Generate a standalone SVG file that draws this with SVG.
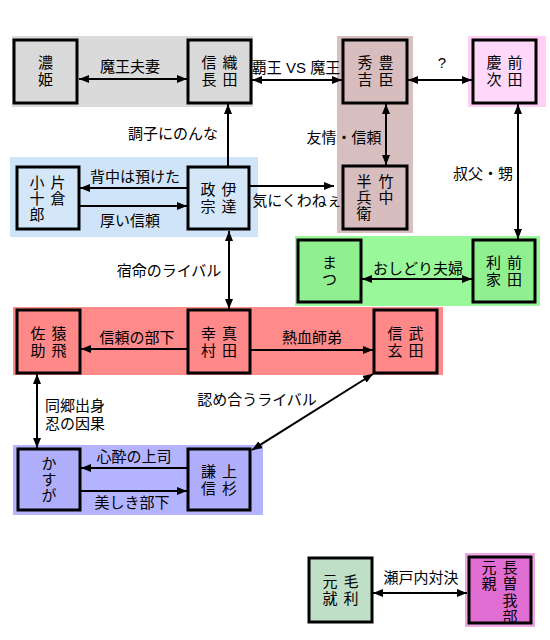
<svg xmlns="http://www.w3.org/2000/svg" width="550" height="640" viewBox="0 0 550 640">
<style>
text{font-family:"Liberation Sans","Noto Sans CJK JP",sans-serif;fill:#000}
.n{font-size:15px;text-anchor:middle;dominant-baseline:central}
.l{font-size:15px;text-anchor:middle}
.b{stroke:#000;stroke-width:3}
.c{stroke:#000;stroke-width:2;fill:none}
</style>
<defs>
<marker id="ah" markerUnits="userSpaceOnUse" markerWidth="10" markerHeight="8" refX="10" refY="4" orient="auto-start-reverse"><path d="M0,0L10,4L0,8z" fill="#000"/></marker>
</defs>
<g id="backgrounds">
<rect x="12" y="36" width="241" height="71" fill="#dadada"/>
<rect x="337" y="36" width="76" height="197" fill="#d7bfbf"/>
<rect x="468" y="36" width="78" height="71" fill="#ffcff5"/>
<rect x="10" y="157" width="248" height="80" fill="#cfe4f8"/>
<rect x="295" y="236" width="245" height="70" fill="#99f899"/>
<rect x="13" y="307" width="430" height="68" fill="#ff8a8a"/>
<rect x="13" y="445" width="250" height="70" fill="#b3b3ff"/>
<rect x="465" y="553" width="70" height="74" fill="#eea8e6"/>
</g>
<g id="connectors">
<line class="c" x1="79" y1="79" x2="187" y2="79" marker-start="url(#ah)" marker-end="url(#ah)"/>
<line class="c" x1="252" y1="80" x2="342" y2="80" marker-start="url(#ah)" marker-end="url(#ah)"/>
<line class="c" x1="408" y1="80" x2="472" y2="80" marker-start="url(#ah)" marker-end="url(#ah)"/>
<line class="c" x1="228" y1="166" x2="228" y2="104" marker-end="url(#ah)"/>
<line class="c" x1="386" y1="104" x2="386" y2="165" marker-start="url(#ah)" marker-end="url(#ah)"/>
<line class="c" x1="518" y1="104" x2="518" y2="239" marker-start="url(#ah)" marker-end="url(#ah)"/>
<line class="c" x1="187" y1="188" x2="80" y2="188" marker-end="url(#ah)"/>
<line class="c" x1="80" y1="206" x2="187" y2="206" marker-end="url(#ah)"/>
<line class="c" x1="250" y1="186" x2="334" y2="186" marker-end="url(#ah)"/>
<line class="c" x1="229" y1="231" x2="229" y2="309" marker-start="url(#ah)" marker-end="url(#ah)"/>
<line class="c" x1="362" y1="279" x2="472" y2="279" marker-start="url(#ah)" marker-end="url(#ah)"/>
<line class="c" x1="187" y1="349" x2="81" y2="349" marker-end="url(#ah)"/>
<line class="c" x1="251" y1="350" x2="373" y2="350" marker-end="url(#ah)"/>
<line class="c" x1="37" y1="374" x2="37" y2="448" marker-start="url(#ah)" marker-end="url(#ah)"/>
<line class="c" x1="252" y1="450" x2="373" y2="374" marker-start="url(#ah)" marker-end="url(#ah)"/>
<line class="c" x1="187" y1="468" x2="81" y2="468" marker-end="url(#ah)"/>
<line class="c" x1="81" y1="491" x2="187" y2="491" marker-end="url(#ah)"/>
<line class="c" x1="373" y1="593" x2="467" y2="593" marker-start="url(#ah)" marker-end="url(#ah)"/>
</g>
<g id="labels">
<text class="l" x="130" y="72">魔王夫妻</text>
<text class="l" x="296" y="73">覇王 VS 魔王</text>
<text class="l" x="442" y="68">?</text>
<text class="l" x="173" y="139">調子にのんな</text>
<text class="l" x="344" y="143">友情・信頼</text>
<text class="l" x="135" y="182">背中は預けた</text>
<text class="l" x="130" y="226">厚い信頼</text>
<text class="l" x="297" y="206">気にくわねぇ</text>
<text class="l" x="483" y="179">叔父・甥</text>
<text class="l" x="418" y="274">おしどり夫婦</text>
<text class="l" x="169" y="276">宿命のライバル</text>
<text class="l" x="137" y="343">信頼の部下</text>
<text class="l" x="312" y="343">熱血師弟</text>
<text class="l" x="45" y="411" style="text-anchor:start">同郷出身</text>
<text class="l" x="45" y="429" style="text-anchor:start">忍の因果</text>
<text class="l" x="257" y="405">認め合うライバル</text>
<text class="l" x="134" y="462">心酔の上司</text>
<text class="l" x="132" y="508">美しき部下</text>
<text class="l" x="421" y="583">瀬戸内対決</text>
</g>
<g id="n-nohime"><rect class="b" x="14" y="40" width="63" height="63" fill="#d9d9d9"/><text class="n" x="45.5" y="62">濃</text><text class="n" x="45.5" y="79">姫</text></g>
<g id="n-nobunaga"><rect class="b" x="188" y="40" width="63" height="63" fill="#d9d9d9"/><text class="n" x="230" y="62">織</text><text class="n" x="230" y="79">田</text><text class="n" x="209" y="62">信</text><text class="n" x="209" y="79">長</text></g>
<g id="n-hideyoshi"><rect class="b" x="343" y="40" width="64" height="63" fill="#d7bdbd"/><text class="n" x="386" y="62">豊</text><text class="n" x="386" y="79">臣</text><text class="n" x="365" y="62">秀</text><text class="n" x="365" y="79">吉</text></g>
<g id="n-keiji"><rect class="b" x="473" y="40" width="63" height="63" fill="#ffd8fa"/><text class="n" x="515" y="62">前</text><text class="n" x="515" y="79">田</text><text class="n" x="494" y="62">慶</text><text class="n" x="494" y="79">次</text></g>
<g id="n-kojuro"><rect class="b" x="17" y="167" width="62" height="62" fill="#d3e7f9"/><text class="n" x="58" y="182">片</text><text class="n" x="58" y="198">倉</text><text class="n" x="37" y="182">小</text><text class="n" x="37" y="198">十</text><text class="n" x="37" y="214">郎</text></g>
<g id="n-masamune"><rect class="b" x="188" y="167" width="61" height="62" fill="#d3e7f9"/><text class="n" x="229" y="189.5">伊</text><text class="n" x="229" y="206.5">達</text><text class="n" x="208" y="189.5">政</text><text class="n" x="208" y="206.5">宗</text></g>
<g id="n-hanbei"><rect class="b" x="343" y="166" width="64" height="63" fill="#d7bdbd"/><text class="n" x="386" y="181">竹</text><text class="n" x="386" y="197">中</text><text class="n" x="364" y="181">半</text><text class="n" x="364" y="197">兵</text><text class="n" x="364" y="213">衛</text></g>
<g id="n-matsu"><rect class="b" x="298" y="240" width="63" height="62" fill="#90f090"/><text class="n" x="329.5" y="262.5">ま</text><text class="n" x="329.5" y="279.5">つ</text></g>
<g id="n-toshiie"><rect class="b" x="473" y="240" width="62" height="62" fill="#90f090"/><text class="n" x="514.5" y="262.5">前</text><text class="n" x="514.5" y="279.5">田</text><text class="n" x="493.5" y="262.5">利</text><text class="n" x="493.5" y="279.5">家</text></g>
<g id="n-sasuke"><rect class="b" x="17" y="310" width="63" height="63" fill="#ff8888"/><text class="n" x="59" y="333">猿</text><text class="n" x="59" y="350">飛</text><text class="n" x="38" y="333">佐</text><text class="n" x="38" y="350">助</text></g>
<g id="n-yukimura"><rect class="b" x="188" y="310" width="62" height="63" fill="#ff8888"/><text class="n" x="229.5" y="333">真</text><text class="n" x="229.5" y="350">田</text><text class="n" x="208.5" y="333">幸</text><text class="n" x="208.5" y="350">村</text></g>
<g id="n-shingen"><rect class="b" x="374" y="310" width="63" height="63" fill="#ff8888"/><text class="n" x="416" y="333">武</text><text class="n" x="416" y="350">田</text><text class="n" x="395" y="333">信</text><text class="n" x="395" y="350">玄</text></g>
<g id="n-kasuga"><rect class="b" x="18" y="449" width="62" height="61" fill="#aeaefa"/><text class="n" x="49" y="463">か</text><text class="n" x="49" y="479">す</text><text class="n" x="49" y="495">が</text></g>
<g id="n-kenshin"><rect class="b" x="188" y="449" width="62" height="61" fill="#aeaefa"/><text class="n" x="229.5" y="471">上</text><text class="n" x="229.5" y="488">杉</text><text class="n" x="208.5" y="471">謙</text><text class="n" x="208.5" y="488">信</text></g>
<g id="n-motonari"><rect class="b" x="309" y="558" width="63" height="64" fill="#bfdfc6"/><text class="n" x="351" y="581.5">毛</text><text class="n" x="351" y="598.5">利</text><text class="n" x="330" y="581.5">元</text><text class="n" x="330" y="598.5">就</text></g>
<g id="n-motochika"><rect class="b" x="469" y="557" width="62" height="66" fill="#e06ed2"/><text class="n" x="510" y="567">長</text><text class="n" x="510" y="583.5">曽</text><text class="n" x="510" y="600">我</text><text class="n" x="510" y="616.5">部</text><text class="n" x="489" y="567">元</text><text class="n" x="489" y="583.5">親</text></g>
</svg>
